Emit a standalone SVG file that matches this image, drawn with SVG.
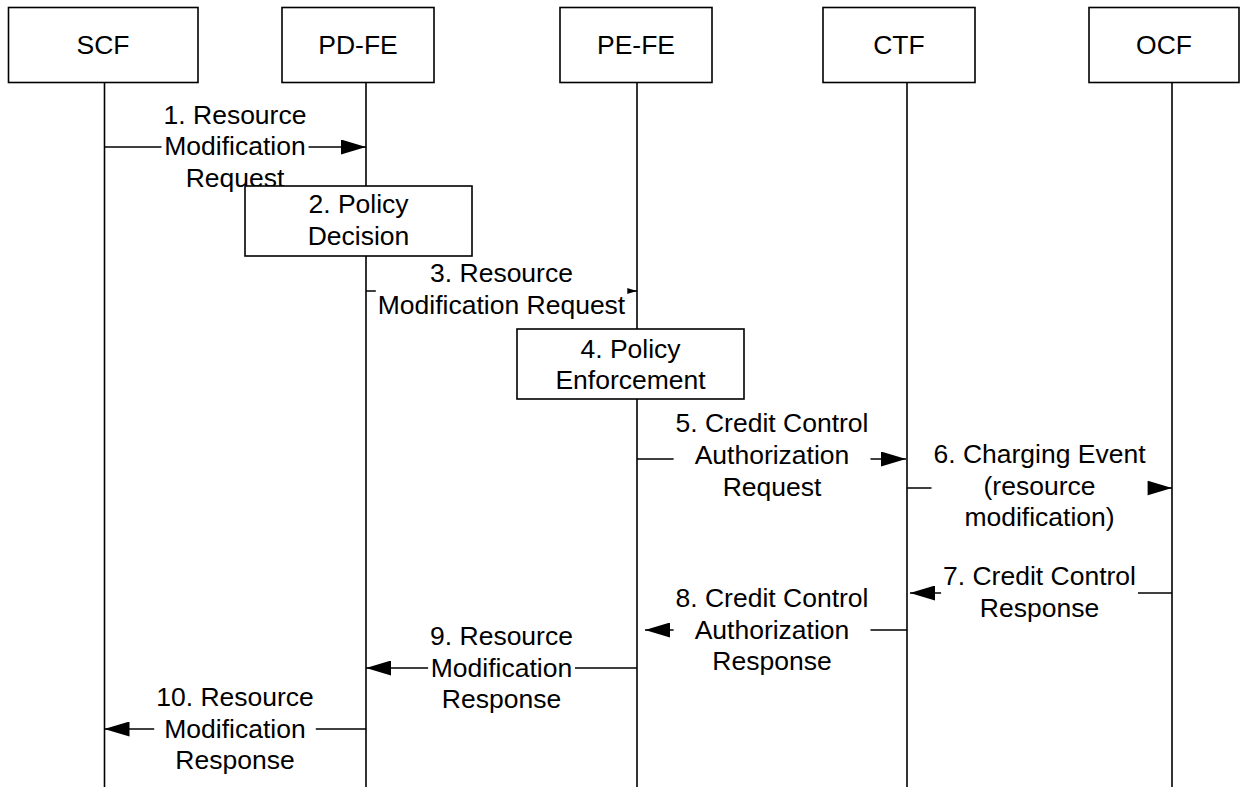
<svg xmlns="http://www.w3.org/2000/svg" width="1241" height="787" viewBox="0 0 1241 787">
  <style>
    .box { fill: #fff; stroke: #000; stroke-width: 1.6; }
    .life { stroke: #000; stroke-width: 1.6; fill: none; }
    .msg { stroke: #000; stroke-width: 1.6; fill: none; marker-end: url(#ah); }
    .bg { fill: #fff; }
    text { font-family: "Liberation Sans", Arial, sans-serif; font-size: 26.5px; text-anchor: middle; fill: #000; }
  </style>
  <defs>
    <marker id="ah" markerUnits="userSpaceOnUse" markerWidth="25" markerHeight="15" refX="25" refY="7.5" orient="auto">
      <path d="M0,0 L25,7.5 L0,15 z" fill="#000"/>
    </marker>
  </defs>

  <rect width="1241" height="787" fill="#fff"/>

  <!-- Participants with their lifelines -->
  <g id="scf">
    <line class="life" x1="104.5" y1="82" x2="104.5" y2="787"/>
    <rect class="box" x="8.5" y="7.5" width="189.5" height="75"/>
    <text x="103" y="54">SCF</text>
  </g>
  <g id="pd-fe">
    <line class="life" x1="366" y1="82" x2="366" y2="787"/>
    <rect class="box" x="282" y="7.5" width="152" height="75"/>
    <text x="358" y="54">PD-FE</text>
  </g>
  <g id="pe-fe">
    <line class="life" x1="637" y1="82" x2="637" y2="787"/>
    <rect class="box" x="560" y="7.5" width="152" height="75"/>
    <text x="636" y="54">PE-FE</text>
  </g>
  <g id="ctf">
    <line class="life" x1="907" y1="82" x2="907" y2="787"/>
    <rect class="box" x="823" y="7.5" width="152" height="75"/>
    <text x="899" y="54">CTF</text>
  </g>
  <g id="ocf">
    <line class="life" x1="1172" y1="82" x2="1172" y2="787"/>
    <rect class="box" x="1089" y="7.5" width="150" height="75"/>
    <text x="1164" y="54">OCF</text>
  </g>

  <!-- Messages -->
  <g id="connectors">
    <path class="msg" d="M104,147 H366"/>
    <path class="msg" d="M366,291 H637"/>
    <path class="msg" d="M637,459 H906"/>
    <path class="msg" d="M907,488 H1172"/>
    <path class="msg" d="M1172,593 H910"/>
    <path class="msg" d="M907,630 H645"/>
    <path class="msg" d="M637,668 H366"/>
    <path class="msg" d="M366,729 H104.5"/>
  </g>

  <!-- Message labels on white backing -->
  <g id="labels">
    <g id="label-1">
      <rect class="bg" x="161.5" y="102.5" width="147" height="91"/>
      <text x="235" y="123.5">1. Resource</text>
      <text x="235" y="155">Modification</text>
      <text x="235" y="186.5">Request</text>
    </g>
    <g id="label-3">
      <rect class="bg" x="375.8" y="261" width="251.5" height="59.5"/>
      <text x="501.5" y="282">3. Resource</text>
      <text x="501.5" y="313.5">Modification Request</text>
    </g>
    <g id="label-5">
      <rect class="bg" x="673.6" y="411" width="196.9" height="91.5"/>
      <text x="772" y="432">5. Credit Control</text>
      <text x="772" y="464">Authorization</text>
      <text x="772" y="495.5">Request</text>
    </g>
    <g id="label-6">
      <rect class="bg" x="931.5" y="442" width="216.1" height="91"/>
      <text x="1039.5" y="463">6. Charging Event</text>
      <text x="1039.5" y="494.5">(resource</text>
      <text x="1039.5" y="526">modification)</text>
    </g>
    <g id="label-7">
      <rect class="bg" x="941.1" y="564" width="196.9" height="59.5"/>
      <text x="1039.5" y="585">7. Credit Control</text>
      <text x="1039.5" y="616.5">Response</text>
    </g>
    <g id="label-8">
      <rect class="bg" x="673.6" y="586" width="196.9" height="91"/>
      <text x="772" y="607">8. Credit Control</text>
      <text x="772" y="638.5">Authorization</text>
      <text x="772" y="670">Response</text>
    </g>
    <g id="label-9">
      <rect class="bg" x="428.1" y="624" width="146.9" height="91"/>
      <text x="501.5" y="645">9. Resource</text>
      <text x="501.5" y="676.5">Modification</text>
      <text x="501.5" y="708">Response</text>
    </g>
    <g id="label-10">
      <rect class="bg" x="154.2" y="685" width="161.6" height="91"/>
      <text x="235" y="706">10. Resource</text>
      <text x="235" y="737.5">Modification</text>
      <text x="235" y="769">Response</text>
    </g>
  </g>

  <!-- Internal processing steps -->
  <g id="policy-decision">
    <rect class="box" x="245" y="186" width="227" height="70"/>
    <text x="358.5" y="213">2. Policy</text>
    <text x="358.5" y="244.5">Decision</text>
  </g>
  <g id="policy-enforcement">
    <rect class="box" x="517" y="329" width="227" height="70"/>
    <text x="630.5" y="357.5">4. Policy</text>
    <text x="630.5" y="389">Enforcement</text>
  </g>
</svg>
